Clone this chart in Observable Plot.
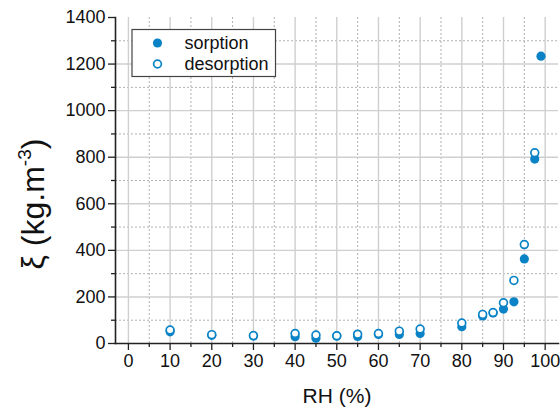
<!DOCTYPE html>
<html>
<head>
<meta charset="utf-8">
<script src="https://cdn.jsdelivr.net/npm/d3@7"></script>
<script src="https://cdn.jsdelivr.net/npm/@observablehq/plot@0.6"></script>
<style>
  html, body { margin: 0; padding: 0; background: #fff; }
  #chart { width: 560px; height: 408px; }
  svg { font-family: "Liberation Sans", Arial, sans-serif; }
</style>
</head>
<body>
<div id="chart"></div>
<script>
const rhSorption = [10, 20, 30, 40, 45, 50, 55, 60, 65, 70, 80, 85, 87.5, 90, 92.5, 95, 97.5, 99];
const xiSorption = [50, 35, 32, 29, 23, 32, 30, 39, 39, 43, 72, 118, 131, 148, 179, 363, 792, 1234];
const rhDesorption = [10, 20, 30, 40, 45, 50, 55, 60, 65, 70, 80, 85, 87.5, 90, 92.5, 95, 97.5];
const xiDesorption = [58, 38, 34, 43, 36, 33, 40, 43, 53, 62, 88, 125, 133, 175, 271, 425, 819];
const seriesNames = ["sorption", "desorption"];
const xMajor = [0, 10, 20, 30, 40, 50, 60, 70, 80, 90, 100];
const xMinor = [5, 15, 25, 35, 45, 55, 65, 75, 85, 95];
const yMajor = [0, 200, 400, 600, 800, 1000, 1200, 1400];
const yMinor = [100, 300, 500, 700, 900, 1100, 1300];

const blue = "#0a83c6";
const sorption = rhSorption.map((x, i) => ({x, y: xiSorption[i]}));
const desorption = rhDesorption.map((x, i) => ({x, y: xiDesorption[i]}));
const fmt = d => String(d);

const plot = Plot.plot({
  width: 560,
  height: 408,
  marginLeft: 115,
  marginTop: 17,
  marginBottom: 65,
  marginRight: 2,
  style: {fontFamily: "Liberation Sans, Arial, sans-serif", background: "#fff"},
  x: {domain: [-3.1, 103.2]},
  y: {domain: [0, 1400]},
  marks: [
    Plot.gridX(xMinor, {stroke: "#b0b0b0", strokeOpacity: 1, strokeDasharray: "2,2", strokeWidth: 1}),
    Plot.gridY(yMinor, {stroke: "#b0b0b0", strokeOpacity: 1, strokeDasharray: "2,2", strokeWidth: 1}),
    Plot.gridX(xMajor, {stroke: "#cfcfcf", strokeOpacity: 1, strokeWidth: 1.4}),
    Plot.gridY(yMajor.filter(v => v > 0 && v < 1400), {stroke: "#cfcfcf", strokeOpacity: 1, strokeWidth: 1.4}),
    Plot.axisY(yMajor, {tickSize: 7, tickPadding: 3, fontSize: 18, tickFormat: fmt, label: null, stroke: "#222", strokeWidth: 1.3, fill: "#111"}),
    Plot.axisY(yMinor, {tickSize: 4, text: null, label: null, stroke: "#222", strokeWidth: 1.3}),
    Plot.axisX(xMajor, {tickSize: 7, tickPadding: 4, fontSize: 18, tickFormat: fmt, label: null, stroke: "#222", strokeWidth: 1.3, fill: "#111"}),
    Plot.axisX(xMinor, {tickSize: 4, text: null, label: null, stroke: "#222", strokeWidth: 1.3}),
    Plot.frame({anchor: "left", stroke: "#222", strokeWidth: 1.6}),
    Plot.frame({anchor: "bottom", stroke: "#222", strokeWidth: 1.6}),
    Plot.dot(sorption, {x: "x", y: "y", r: 4.6, fill: blue, stroke: "none"}),
    Plot.dot(desorption, {x: "x", y: "y", r: 3.9, fill: "#fff", stroke: blue, strokeWidth: 1.7})
  ]
});

const svg = d3.select(plot);
svg.style("overflow", "visible");

// Y title with superscript
const yt = svg.append("text")
  .attr("transform", "translate(44,204) rotate(-90)")
  .attr("text-anchor", "middle")
  .attr("font-size", 32)
  .attr("fill", "#111");
yt.append("tspan").text("ξ (kg.m");
yt.append("tspan").attr("dy", -13).attr("font-size", 19).text("-3");
yt.append("tspan").attr("dy", 13).text(")");

// X title
svg.append("text")
  .attr("x", 337).attr("y", 403)
  .attr("text-anchor", "middle")
  .attr("font-size", 21)
  .attr("fill", "#111")
  .text("RH (%)");

// Legend
const lg = svg.append("g");
lg.append("rect").attr("x", 132).attr("y", 29.5).attr("width", 143.5).attr("height", 47)
  .attr("fill", "#fff").attr("stroke", "#444").attr("stroke-width", 1.2);
const rows = [
  {name: seriesNames[0], fill: blue, stroke: "none", r: 4.6, sw: 0},
  {name: seriesNames[1], fill: "#fff", stroke: blue, r: 3.9, sw: 1.7}
];
rows.forEach((d, i) => {
  const cy = 43 + i * 21;
  lg.append("circle").attr("cx", 157.5).attr("cy", cy).attr("r", d.r)
    .attr("fill", d.fill).attr("stroke", d.stroke).attr("stroke-width", d.sw);
  lg.append("text").attr("x", 184.5).attr("y", cy).attr("dy", "0.35em")
    .attr("text-anchor", "start")
    .attr("font-size", 18).attr("fill", "#111").text(d.name);
});

document.getElementById("chart").appendChild(plot);
</script>
</body>
</html>
